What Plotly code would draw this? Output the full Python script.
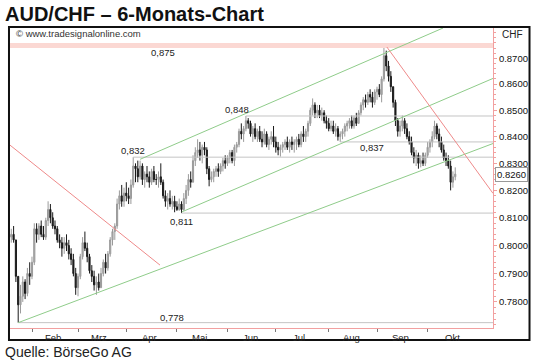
import math
import pandas as pd
import plotly.graph_objects as go

# ---------------- data ----------------
dates = [d.strftime("%Y-%m-%d") for d in pd.bdate_range("2014-01-21", "2014-10-17")]

highs = [
    0.806, 0.807, 0.802, 0.789, 0.786, 0.789, 0.788, 0.792, 0.794, 0.796,
    0.808, 0.808, 0.808, 0.809, 0.807, 0.810, 0.816, 0.815, 0.812, 0.809,
    0.807, 0.804, 0.803, 0.803, 0.804, 0.802, 0.799, 0.797, 0.792, 0.790,
    0.797, 0.803, 0.805, 0.801, 0.797, 0.793, 0.791, 0.789, 0.790, 0.792,
    0.795, 0.797, 0.798, 0.803, 0.806, 0.808, 0.817, 0.820, 0.822, 0.821,
    0.823, 0.821, 0.824, 0.8323, 0.830, 0.831, 0.831, 0.830, 0.827, 0.829,
    0.827, 0.828, 0.829, 0.826, 0.827, 0.830, 0.824, 0.820, 0.819, 0.820,
    0.818, 0.818, 0.816, 0.817, 0.816, 0.819, 0.822, 0.826, 0.827, 0.833,
    0.836, 0.839, 0.838, 0.837, 0.838, 0.836, 0.829, 0.827, 0.828, 0.829,
    0.830, 0.830, 0.832, 0.833, 0.833, 0.835, 0.835, 0.837, 0.838, 0.843,
    0.845, 0.844, 0.8478, 0.847, 0.846, 0.844, 0.845, 0.843, 0.844, 0.842,
    0.843, 0.842, 0.840, 0.842, 0.844, 0.840, 0.838, 0.837, 0.838, 0.839,
    0.840, 0.839, 0.840, 0.839, 0.840, 0.841, 0.842, 0.844, 0.843, 0.846,
    0.851, 0.8545, 0.853, 0.852, 0.852, 0.851, 0.850, 0.848, 0.847, 0.846,
    0.846, 0.845, 0.844, 0.842, 0.843, 0.845, 0.846, 0.847, 0.848, 0.848,
    0.849, 0.850, 0.853, 0.855, 0.856, 0.857, 0.858, 0.857, 0.858, 0.859,
    0.860, 0.863, 0.8742, 0.873, 0.869, 0.865, 0.859, 0.854, 0.847, 0.846,
    0.848, 0.847, 0.845, 0.842, 0.840, 0.836, 0.835, 0.834, 0.833, 0.834,
    0.834, 0.838, 0.839, 0.842, 0.846, 0.845, 0.843, 0.840, 0.837, 0.834,
    0.833, 0.831, 0.827, 0.8285,
]
lows = [
    0.801, 0.801, 0.787, 0.7728, 0.776, 0.780, 0.781, 0.782, 0.786, 0.788,
    0.793, 0.801, 0.802, 0.803, 0.802, 0.802, 0.807, 0.808, 0.806, 0.804,
    0.801, 0.799, 0.796, 0.797, 0.798, 0.795, 0.793, 0.789, 0.7825, 0.782,
    0.788, 0.795, 0.798, 0.794, 0.790, 0.787, 0.784, 0.7825, 0.784, 0.785,
    0.789, 0.790, 0.791, 0.796, 0.800, 0.802, 0.806, 0.813, 0.814, 0.814,
    0.816, 0.815, 0.815, 0.821, 0.823, 0.823, 0.824, 0.822, 0.821, 0.823,
    0.821, 0.822, 0.823, 0.822, 0.821, 0.822, 0.817, 0.814, 0.813, 0.814,
    0.813, 0.812, 0.8125, 0.8125, 0.8117, 0.8125, 0.815, 0.818, 0.821, 0.823,
    0.829, 0.832, 0.831, 0.830, 0.833, 0.826, 0.8215, 0.823, 0.823, 0.825,
    0.825, 0.826, 0.827, 0.828, 0.829, 0.830, 0.830, 0.829, 0.834, 0.836,
    0.839, 0.838, 0.842, 0.843, 0.840, 0.838, 0.839, 0.838, 0.838, 0.836,
    0.837, 0.836, 0.835, 0.837, 0.836, 0.834, 0.833, 0.8325, 0.834, 0.835,
    0.835, 0.834, 0.835, 0.834, 0.835, 0.836, 0.836, 0.838, 0.838, 0.840,
    0.844, 0.848, 0.847, 0.847, 0.847, 0.846, 0.845, 0.843, 0.842, 0.842,
    0.841, 0.840, 0.8385, 0.838, 0.839, 0.840, 0.842, 0.843, 0.843, 0.843,
    0.844, 0.845, 0.848, 0.850, 0.851, 0.852, 0.853, 0.851, 0.852, 0.854,
    0.855, 0.853, 0.861, 0.865, 0.861, 0.857, 0.851, 0.844, 0.840, 0.840,
    0.842, 0.841, 0.839, 0.837, 0.833, 0.830, 0.829, 0.828, 0.8285, 0.829,
    0.829, 0.832, 0.834, 0.836, 0.839, 0.839, 0.836, 0.834, 0.831, 0.829,
    0.828, 0.820, 0.821, 0.8237,
]
closes = [
    0.804, 0.802, 0.789, 0.779, 0.782, 0.787, 0.783, 0.790, 0.789, 0.794,
    0.806, 0.804, 0.807, 0.804, 0.803, 0.809, 0.813, 0.810, 0.807, 0.806,
    0.802, 0.801, 0.799, 0.801, 0.800, 0.797, 0.795, 0.790, 0.785, 0.789,
    0.796, 0.801, 0.799, 0.796, 0.791, 0.789, 0.786, 0.787, 0.785, 0.790,
    0.794, 0.792, 0.797, 0.802, 0.805, 0.807, 0.815, 0.818, 0.816, 0.819,
    0.818, 0.817, 0.822, 0.829, 0.828, 0.825, 0.829, 0.824, 0.826, 0.825,
    0.823, 0.827, 0.824, 0.824, 0.825, 0.823, 0.818, 0.816, 0.817, 0.815,
    0.816, 0.814, 0.813, 0.815, 0.813, 0.817, 0.820, 0.824, 0.823, 0.831,
    0.834, 0.835, 0.833, 0.836, 0.835, 0.828, 0.824, 0.825, 0.827, 0.828,
    0.827, 0.829, 0.831, 0.830, 0.832, 0.834, 0.831, 0.836, 0.837, 0.842,
    0.841, 0.843, 0.846, 0.845, 0.841, 0.843, 0.840, 0.842, 0.839, 0.838,
    0.841, 0.837, 0.839, 0.840, 0.838, 0.836, 0.835, 0.836, 0.837, 0.838,
    0.836, 0.838, 0.837, 0.838, 0.839, 0.837, 0.841, 0.840, 0.842, 0.845,
    0.850, 0.852, 0.849, 0.850, 0.848, 0.849, 0.846, 0.845, 0.843, 0.844,
    0.842, 0.843, 0.840, 0.841, 0.842, 0.844, 0.845, 0.846, 0.844, 0.847,
    0.845, 0.849, 0.852, 0.854, 0.853, 0.856, 0.855, 0.853, 0.857, 0.858,
    0.856, 0.862, 0.871, 0.867, 0.863, 0.859, 0.853, 0.846, 0.842, 0.844,
    0.846, 0.843, 0.840, 0.838, 0.834, 0.832, 0.833, 0.830, 0.831, 0.830,
    0.833, 0.836, 0.838, 0.840, 0.844, 0.841, 0.838, 0.835, 0.832, 0.831,
    0.829, 0.823, 0.825, 0.826,
]
first_open = 0.803
opens = [first_open] + closes[:-1]

last_price = 0.8260

# support / resistance levels
level_labels = ["0,832", "0,811", "0,848", "0,837", "0,778"]
level_values = [0.8323, 0.8117, 0.8478, 0.8380, 0.7728]
level_starts = ["2014-04-04", "2014-05-05", "2014-06-12", "2014-08-08", "2014-01-24"]
label_dates = ["2014-04-04", "2014-05-05", "2014-06-06", "2014-08-27 17:00", "2014-04-28 17:00"]
label_values = [0.8347, 0.8088, 0.8501, 0.8360, 0.7747]

top_level_label = "0,875"
top_level_value = 0.8750
top_label_pos = ("2014-04-23", 0.8721)

# trend lines: (x0, y0, x1, y1)
X_START = "2014-01-20 10:30"
X_END = "2014-11-10 10:00"
green_lines = [
    ("2014-01-24", 0.7728, X_END, 0.8374),
    ("2014-05-05 02:00", 0.8121, X_END, 0.8622),
    ("2014-04-09", 0.8315, "2014-10-09 17:00", 0.8819),
]
red_lines = [
    (X_START, 0.8368, "2014-04-21 15:30", 0.7930),
    ("2014-09-05 07:00", 0.8744, X_END, 0.8189),
]

month_names = ["Feb", "Mrz", "Apr", "Mai", "Jun", "Jul", "Aug", "Sep", "Okt"]
month_starts = ["2014-02-03", "2014-03-03", "2014-04-01", "2014-05-01", "2014-06-02",
                "2014-07-01", "2014-08-01", "2014-09-01", "2014-10-01"]
month_mids = ["2014-02-14", "2014-03-14", "2014-04-15", "2014-05-15", "2014-06-16",
              "2014-07-15", "2014-08-15", "2014-09-15", "2014-10-16"]

ytick_vals = [0.78, 0.79, 0.80, 0.81, 0.82, 0.83, 0.84, 0.85, 0.86, 0.87]
ytick_text = ["0.7800", "0.7900", "0.8000", "0.8100", "0.8200", "0.8300",
              "0.8400", "0.8500", "0.8600", "0.8700"]
Y_MIN, Y_MAX = 0.77095, 0.8819

# ---------------- styles ----------------
PINK = "#f2a0a0"
GREEN = "#8fcc8a"
RED = "#ee8a8a"
GRAY = "#c4c4c4"
FONT = "Liberation Sans, Arial, sans-serif"

fig = go.Figure()

fig.add_trace(go.Scatter(x=[X_START, X_END], y=[top_level_value, top_level_value],
                         mode="lines", line=dict(color="#fbd8d3", width=5),
                         hoverinfo="skip", showlegend=False))

for v, s in zip(level_values, level_starts):
    fig.add_trace(go.Scatter(x=[s, X_END], y=[v, v], mode="lines",
                             line=dict(color=GRAY, width=1), hoverinfo="skip", showlegend=False))

for (x0, y0, x1, y1) in green_lines:
    fig.add_trace(go.Scatter(x=[x0, x1], y=[y0, y1], mode="lines",
                             line=dict(color=GREEN, width=1), hoverinfo="skip", showlegend=False))
for (x0, y0, x1, y1) in red_lines:
    fig.add_trace(go.Scatter(x=[x0, x1], y=[y0, y1], mode="lines",
                             line=dict(color=RED, width=1), hoverinfo="skip", showlegend=False))

fig.add_trace(go.Candlestick(
    x=dates, open=opens, high=highs, low=lows, close=closes,
    increasing=dict(line=dict(color="#9a9a9a", width=1), fillcolor="#b0b0b0"),
    decreasing=dict(line=dict(color="#1a1a1a", width=1), fillcolor="#1a1a1a"),
    whiskerwidth=0, showlegend=False, hoverinfo="skip",
))

annotations = []
for t, d, v in zip(level_labels, label_dates, label_values):
    annotations.append(dict(x=d, y=math.log10(v), xref="x", yref="y", text=t, showarrow=False,
                            font=dict(family=FONT, size=9.5, color="#222")))
annotations.append(dict(x=top_label_pos[0], y=math.log10(top_label_pos[1]), xref="x", yref="y",
                        text=top_level_label, showarrow=False,
                        font=dict(family=FONT, size=9.5, color="#222")))
for name, mid in zip(month_names, month_mids):
    annotations.append(dict(x=mid, y=-0.03, xref="x", yref="paper", text=name, showarrow=False,
                            yanchor="middle", font=dict(family=FONT, size=9.5, color="#222")))

annotations.append(dict(x=-0.0145, y=1.0467, xref="paper", yref="paper", xanchor="left",
                        yanchor="middle", text="<b>AUD/CHF – 6-Monats-Chart</b>", showarrow=False,
                        font=dict(family=FONT, size=20, color="#111")))
annotations.append(dict(x=0.0083, y=0.9833, xref="paper", yref="paper", xanchor="left",
                        yanchor="middle", text="© www.tradesignalonline.com", showarrow=False,
                        font=dict(family=FONT, size=9.5, color="#333")))
annotations.append(dict(x=1.0145, y=0.98, xref="paper", yref="paper", xanchor="left",
                        yanchor="middle", text="CHF", showarrow=False,
                        font=dict(family=FONT, size=10, color="#222")))
annotations.append(dict(x=-0.0145, y=-0.08, xref="paper", yref="paper", xanchor="left",
                        yanchor="middle", text="Quelle: BörseGo AG", showarrow=False,
                        font=dict(family=FONT, size=14, color="#222")))
annotations.append(dict(x=1.004, y=math.log10(last_price), xref="paper", yref="y", xanchor="left",
                        yanchor="middle", text=f"{last_price:.4f}", showarrow=False,
                        bgcolor="white", bordercolor="#999", borderwidth=1, borderpad=1,
                        font=dict(family=FONT, size=9.5, color="#111")))

minor_vals = [round(0.772 + 0.002 * i, 3) for i in range(56)]

fig.update_layout(
    width=540, height=363,
    margin=dict(l=10, r=47, t=28, b=35),
    paper_bgcolor="white", plot_bgcolor="white",
    showlegend=False,
    annotations=annotations,
    shapes=[dict(type="rect", xref="paper", yref="paper", x0=-0.0021, x1=1.0756,
                 y0=-0.04, y1=1.0033, line=dict(color="#111", width=2))],
    xaxis=dict(
        type="date", range=[X_START, X_END],
        rangebreaks=[dict(bounds=["sat", "mon"])],
        rangeslider=dict(visible=False),
        showgrid=False, zeroline=False,
        showline=True, linecolor=PINK, linewidth=1,
        tickvals=month_starts, ticktext=[""] * len(month_starts),
        ticks="outside", ticklen=3, tickcolor="#777",
    ),
    yaxis=dict(
        type="log", side="right",
        range=[math.log10(Y_MIN), math.log10(Y_MAX)],
        tickvals=ytick_vals, ticktext=ytick_text,
        showgrid=False, zeroline=False,
        showline=True, linecolor=PINK, linewidth=1,
        ticks="outside", ticklen=3, tickcolor=PINK,
        tickfont=dict(family=FONT, size=9.5, color="#111"),
        minor=dict(tickvals=minor_vals, ticks="outside", ticklen=2, tickcolor=PINK),
    ),
)

fig.write_html("out.html")
